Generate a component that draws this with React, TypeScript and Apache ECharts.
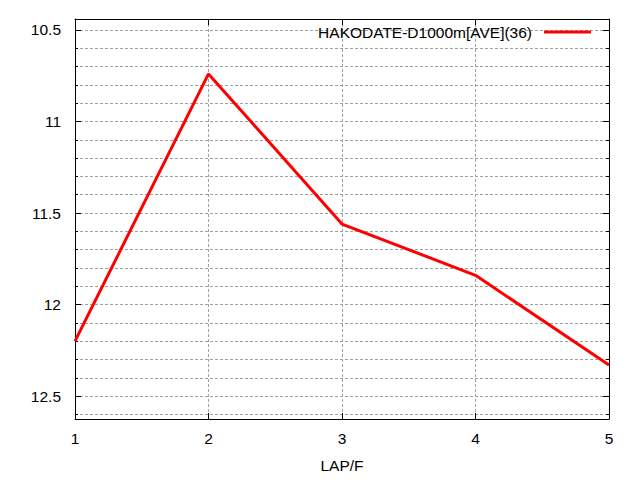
import React, { useEffect, useRef } from "react";
import * as echarts from "echarts";

const seriesName = "HAKODATE-D1000m[AVE](36)";
const laps = [1, 2, 3, 4, 5];
const times = [12.2, 10.74, 11.56, 11.84, 12.33];
const yMin = 10.44;
const yMax = 12.625;

const FONT = "'Liberation Sans', Arial, sans-serif";

export default function App() {
  const ref = useRef<HTMLDivElement>(null);
  useEffect(() => {
    if (!ref.current) return;
    const chart = echarts.init(ref.current, undefined, { renderer: "svg" });
    const grid = "#a0a0a0";
    const dash = { color: grid, width: 1, type: [3, 2] as number[] };
    const labelStyle = { color: "#000", fontFamily: FONT, fontSize: 15.5 };
    const yCommon = {
      type: "value" as const,
      inverse: true,
      min: yMin,
      max: yMax,
      splitNumber: 5,
      axisLine: { show: true, lineStyle: { color: "#000", width: 1 } },
      axisTick: { show: true, inside: true, length: 6, lineStyle: { color: "#000" } },
      minorTick: { show: true, splitNumber: 5, length: 3, lineStyle: { color: "#000" } },
    };
    chart.setOption({
      animation: false,
      backgroundColor: "#fff",
      textStyle: { fontFamily: FONT },
      grid: { left: 75, right: 31, top: 19, bottom: 61, outerBoundsMode: "none" },
      legend: {
        data: [seriesName],
        align: "right",
        right: 49,
        top: 24,
        padding: 0,
        icon: "rect",
        itemWidth: 47,
        itemHeight: 3,
        itemStyle: { color: "#ff0000", borderWidth: 0, borderColor: "#ff0000", decal: "none" },
        lineStyle: { width: 0 },
        textStyle: { color: "#000", fontFamily: FONT, fontSize: 15.5, padding: [0, 7, 0, 0] },
      },
      xAxis: [
        {
          type: "value",
          position: "bottom",
          min: 1,
          max: 5,
          interval: 1,
          name: "LAP/F",
          nameLocation: "middle",
          nameGap: 38,
          nameTextStyle: labelStyle,
          axisLine: { show: true, onZero: false, lineStyle: { color: "#000", width: 1 } },
          axisTick: { show: true, inside: true, length: 6, lineStyle: { color: "#000" } },
          axisLabel: { ...labelStyle, margin: 11 },
          splitLine: { show: true, lineStyle: dash },
        },
        {
          type: "value",
          position: "top",
          min: 1,
          max: 5,
          interval: 1,
          axisLine: { show: true, onZero: false, lineStyle: { color: "#000", width: 1 } },
          axisTick: { show: true, inside: true, length: 6, lineStyle: { color: "#000" } },
          axisLabel: { show: false },
          splitLine: { show: false },
        },
      ],
      yAxis: [
        {
          ...yCommon,
          position: "left",
          axisLabel: { ...labelStyle, margin: 14, showMinLabel: false, showMaxLabel: false },
          splitLine: { show: true, lineStyle: dash },
          minorSplitLine: { show: true, lineStyle: dash },
        },
        {
          ...yCommon,
          position: "right",
          axisLabel: { show: false },
          splitLine: { show: false },
          minorSplitLine: { show: false },
        },
      ],
      series: [
        {
          name: seriesName,
          type: "line",
          xAxisIndex: 0,
          yAxisIndex: 0,
          data: laps.map((x, i) => [x, times[i]]),
          showSymbol: false,
          symbol: "none",
          lineStyle: { color: "#ff0000", width: 3 },
          itemStyle: { color: "#ff0000" },
        },
      ],
    });
    return () => chart.dispose();
  }, []);
  return (
    <div
      ref={ref}
      style={{ position: "absolute", left: 0, top: 0, width: 640, height: 480 }}
    />
  );
}
